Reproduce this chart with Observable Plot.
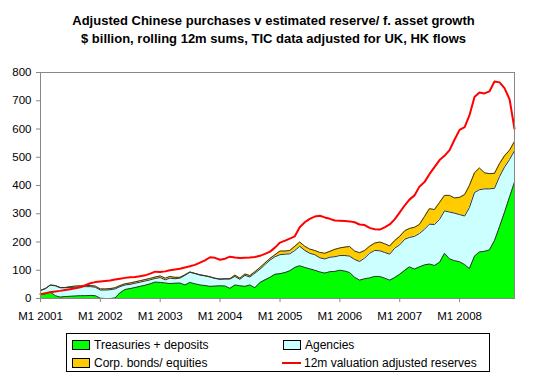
<!DOCTYPE html>
<html><head><meta charset="utf-8">
<script src="https://cdn.jsdelivr.net/npm/d3@7"></script>
<script src="https://cdn.jsdelivr.net/npm/@observablehq/plot@0.6"></script>
<style>
body{margin:0;background:#fff;}
#wrap{position:relative;width:547px;height:374px;font-family:"Liberation Sans",Arial,sans-serif;color:#000;}
#title{position:absolute;top:12px;left:0;width:547px;text-align:center;font-weight:bold;font-size:13px;line-height:18px;}
#chart{position:absolute;top:55px;left:0;}
#legend{position:absolute;left:66px;top:333px;width:422px;height:37px;border:1px solid #000;font-size:12px;background:#fff;}
.item{position:absolute;display:flex;align-items:center;height:14px;line-height:14px;white-space:nowrap;}
.sw{width:16px;height:8px;border:1px solid #000;margin-right:4px;}
.ln{width:19px;height:2px;background:#f00;margin-right:3px;}
</style></head>
<body>
<div id="wrap">
  <div id="title">Adjusted Chinese purchases v estimated reserve/ f. asset growth<br>$ billion, rolling 12m sums, TIC data adjusted for UK, HK flows</div>
  <div id="chart"></div>
  <div id="legend"></div>
</div>
<script>
// Months: M1 2001 .. M12 2008 (96 monthly points)
const startYear = 2001, startMonth = 0, monthCount = 96;
const yearTickLabels = ["M1 2001","M1 2002","M1 2003","M1 2004","M1 2005","M1 2006","M1 2007","M1 2008"];
const yTicks = [0,100,200,300,400,500,600,700,800];

const seriesNames = ["Treasuries + deposits","Agencies","Corp. bonds/ equities"];
const lineName = "12m valuation adjusted reserves";

const treasuries = [15,16,23,10,5,7,8,9,10,10,11,10,1,0,0,2,20,32,35,39,43,47,52,58,
  57,55,53,54,55,48,57,52,48,46,43,44,45,44,36,48,45,43,48,38,
  57,66,75,86,88,92,98,110,116,110,105,100,94,90,95,96,100,97,92,75,65,70,73,78,78,72,65,74,
  86,100,112,104,112,119,122,117,128,160,140,134,130,120,106,150,165,167,172,205,255,305,360,412];

const agencies = [13,19,24,35,33,31,31,31,31,32,31,30,29,30,31,32,22,16,15,15,15,15,14,13,
  17,11,19,16,17,34,36,36,35,34,33,27,23,25,33,30,23,39,28,52,
  47,54,61,62,67,65,60,60,69,60,55,55,50,50,51,52,52,55,58,63,66,73,87,92,91,91,92,104,
  104,110,104,116,118,126,141,145,152,150,166,168,167,172,216,225,220,221,216,185,177,160,132,112];

const corp = [1,1,1,1,1,1,3,4,4,4,4,4,4,4,4,4,4,4,5,5,5,5,5,5,
  6,6,6,5,3,2,1,1,1,1,1,1,1,1,1,5,4,5,5,5,
  6,6,6,7,13,11,12,15,15,15,15,15,19,20,21,26,27,30,34,30,31,27,25,26,31,31,29,27,
  30,30,32,32,32,45,55,53,60,55,59,54,61,76,78,70,77,57,54,53,46,40,33,32];

const reserves = [15,19,22,25,27,30,33,36,40,47,54,58,60,62,64,67,70,73,75,76,79,82,88,95,
  94,96,100,103,105,110,114,119,127,135,146,144,137,141,148,145,143,144,145,147,
  151,158,166,180,198,205,212,220,252,270,282,290,293,287,282,276,275,274,273,270,262,260,250,245,244,252,262,280,
  305,330,350,365,396,412,440,465,490,505,525,562,597,607,648,713,729,726,733,768,765,745,705,601];

const colors = ["#00FF00","#CCFFFF","#FFCC00"];
const lineColor = "#FF0000";

const months = d3.range(monthCount).map(i => new Date(Date.UTC(startYear, startMonth + i, 1)));
const yearTicks = yearTickLabels.map((_, i) => new Date(Date.UTC(startYear + i, 0, 1)));
const labelOf = new Map(yearTicks.map((d, i) => [+d, yearTickLabels[i]]));

const rows = [];
[treasuries, agencies, corp].forEach((vals, s) =>
  vals.forEach((v, i) => rows.push({date: months[i], series: seriesNames[s], value: v})));
const resRows = reserves.map((v, i) => ({date: months[i], value: v}));

const font = '"Liberation Sans",Arial,sans-serif';
const chart = Plot.plot({
  width: 547, height: 275,
  marginTop: 17, marginBottom: 32, marginLeft: 40, marginRight: 33,
  style: {fontFamily: font, fontSize: "11.5px", color: "#000", background: "#fff", overflow: "visible"},
  x: {type: "utc", domain: [months[0], months[monthCount - 1]]},
  y: {domain: [0, 800]},
  color: {domain: seriesNames, range: colors},
  marks: [
    Plot.areaY(rows, {x: "date", y: "value", z: "series", fill: "series", order: null}),
    Plot.lineY(rows, Plot.stackY2({x: "date", y: "value", z: "series", order: null, stroke: "#333", strokeWidth: 1})),
    Plot.lineY(resRows, {x: "date", y: "value", stroke: lineColor, strokeWidth: 2}),
    Plot.frame({stroke: "#888"}),
    Plot.axisX({ticks: yearTicks, tickFormat: d => labelOf.get(+d), tickSize: 4, tickPadding: 9, stroke: "#888", label: null}),
    Plot.axisY({ticks: yTicks, tickSize: 4, tickPadding: 5, stroke: "#888", label: null})
  ]
});
document.getElementById("chart").appendChild(chart);

// Legend
const legend = document.getElementById("legend");
const items = [
  {name: seriesNames[0], color: colors[0], left: 5, top: 4, kind: "sw"},
  {name: seriesNames[1], color: colors[1], left: 216, top: 4, kind: "sw"},
  {name: seriesNames[2], color: colors[2], left: 5, top: 22, kind: "sw"},
  {name: lineName, color: lineColor, left: 215, top: 22, kind: "ln"}
];
for (const it of items) {
  const el = document.createElement("div");
  el.className = "item";
  el.style.left = it.left + "px";
  el.style.top = it.top + "px";
  const sw = document.createElement("span");
  sw.className = it.kind;
  sw.style.background = it.color;
  el.appendChild(sw);
  el.appendChild(document.createTextNode(it.name));
  legend.appendChild(el);
}
</script>
</body></html>
